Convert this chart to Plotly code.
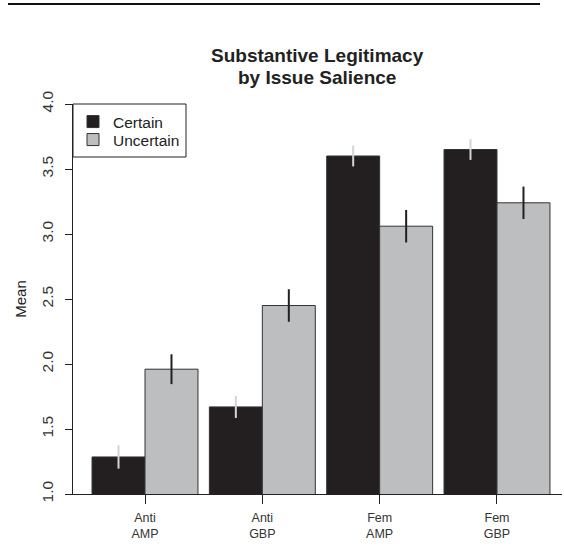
import plotly.graph_objects as go

categories = ["Anti<br>AMP", "Anti<br>GBP", "Fem<br>AMP", "Fem<br>GBP"]
certain_mean = [1.285, 1.67, 3.60, 3.65]
certain_err = [0.09, 0.085, 0.08, 0.08]
uncertain_mean = [1.96, 2.45, 3.06, 3.24]
uncertain_err = [0.115, 0.125, 0.125, 0.125]
y_ticks = [1.0, 1.5, 2.0, 2.5, 3.0, 3.5, 4.0]

FONT = "Liberation Sans, Arial, sans-serif"
xpos = list(range(len(categories)))

fig = go.Figure()
fig.add_trace(go.Bar(
    x=xpos, y=certain_mean, name="Certain", legend="legend",
    marker=dict(color="#231f20", line=dict(color="#333333", width=1)),
    error_y=dict(type="data", array=certain_err, color="#d4d4d4", thickness=2, width=0),
))
fig.add_trace(go.Bar(
    x=xpos, y=uncertain_mean, name="Uncertain", legend="legend2",
    marker=dict(color="#bcbec0", line=dict(color="#333333", width=1)),
    error_y=dict(type="data", array=uncertain_err, color="#231f20", thickness=2, width=0),
))

L, R, T, B = 73, 2, 104, 65
W, H = 564, 559
pw = W - L - R
ph = H - T - B
unit = 117.33
x0 = -(145 - L) / unit
x1 = x0 + pw / unit

def px_x(p):
    return (p - L) / pw

def px_y(p):
    return (H - B - p) / ph

legend_common = dict(
    xanchor="left", yanchor="middle", borderwidth=0, bgcolor="rgba(0,0,0,0)",
    font=dict(size=15.5, family=FONT, color="#222222"),
)

fig.update_layout(
    width=W, height=H,
    margin=dict(l=L, r=R, t=T, b=B, pad=0),
    paper_bgcolor="white", plot_bgcolor="white",
    barmode="group", bargap=0.097, bargroupgap=0,
    font=dict(family=FONT, color="#222222"),
    showlegend=True,
    legend=dict(x=0, y=px_y(122), **legend_common),
    legend2=dict(x=0, y=px_y(140), **legend_common),
    xaxis=dict(
        range=[x0, x1], tickmode="array", tickvals=xpos, ticktext=categories,
        showline=True, linecolor="#222222", linewidth=1,
        ticks="outside", ticklen=9, tickcolor="#222222", tickwidth=1,
        tickfont=dict(size=12.5, family=FONT, color="#333333"),
        ticklabelstandoff=3,
        showgrid=False, zeroline=False, automargin=False,
    ),
    yaxis=dict(
        range=[1, 4], tickmode="array", tickvals=y_ticks,
        ticktext=[f"{v:.1f}" for v in y_ticks],
        showline=True, linecolor="#222222", linewidth=1,
        ticks="outside", ticklen=7, tickcolor="#222222", tickwidth=1,
        tickangle=-90, tickfont=dict(size=15.5, family=FONT, color="#333333"),
        ticklabelstandoff=6,
        showgrid=False, zeroline=False, automargin=False,
        title=dict(text="Mean", font=dict(size=15, family=FONT, color="#222222"), standoff=8),
    ),
    shapes=[
        dict(type="line", xref="paper", yref="paper",
             x0=px_x(8), x1=px_x(540), y0=px_y(4), y1=px_y(4),
             line=dict(color="#111111", width=2)),
        dict(type="rect", xref="paper", yref="paper",
             x0=px_x(73), x1=px_x(186), y0=px_y(104), y1=px_y(157),
             line=dict(color="#222222", width=1), fillcolor="rgba(0,0,0,0)",
             layer="above"),
    ],
    annotations=[
        dict(text="<b>Substantive Legitimacy</b>", xref="paper", yref="paper",
             x=px_x(317), y=px_y(55), xanchor="center", yanchor="middle",
             showarrow=False, font=dict(size=19, family=FONT, color="#222222")),
        dict(text="<b>by Issue Salience</b>", xref="paper", yref="paper",
             x=px_x(317), y=px_y(77), xanchor="center", yanchor="middle",
             showarrow=False, font=dict(size=19, family=FONT, color="#222222")),
    ],
)

fig.write_html("out.html")
